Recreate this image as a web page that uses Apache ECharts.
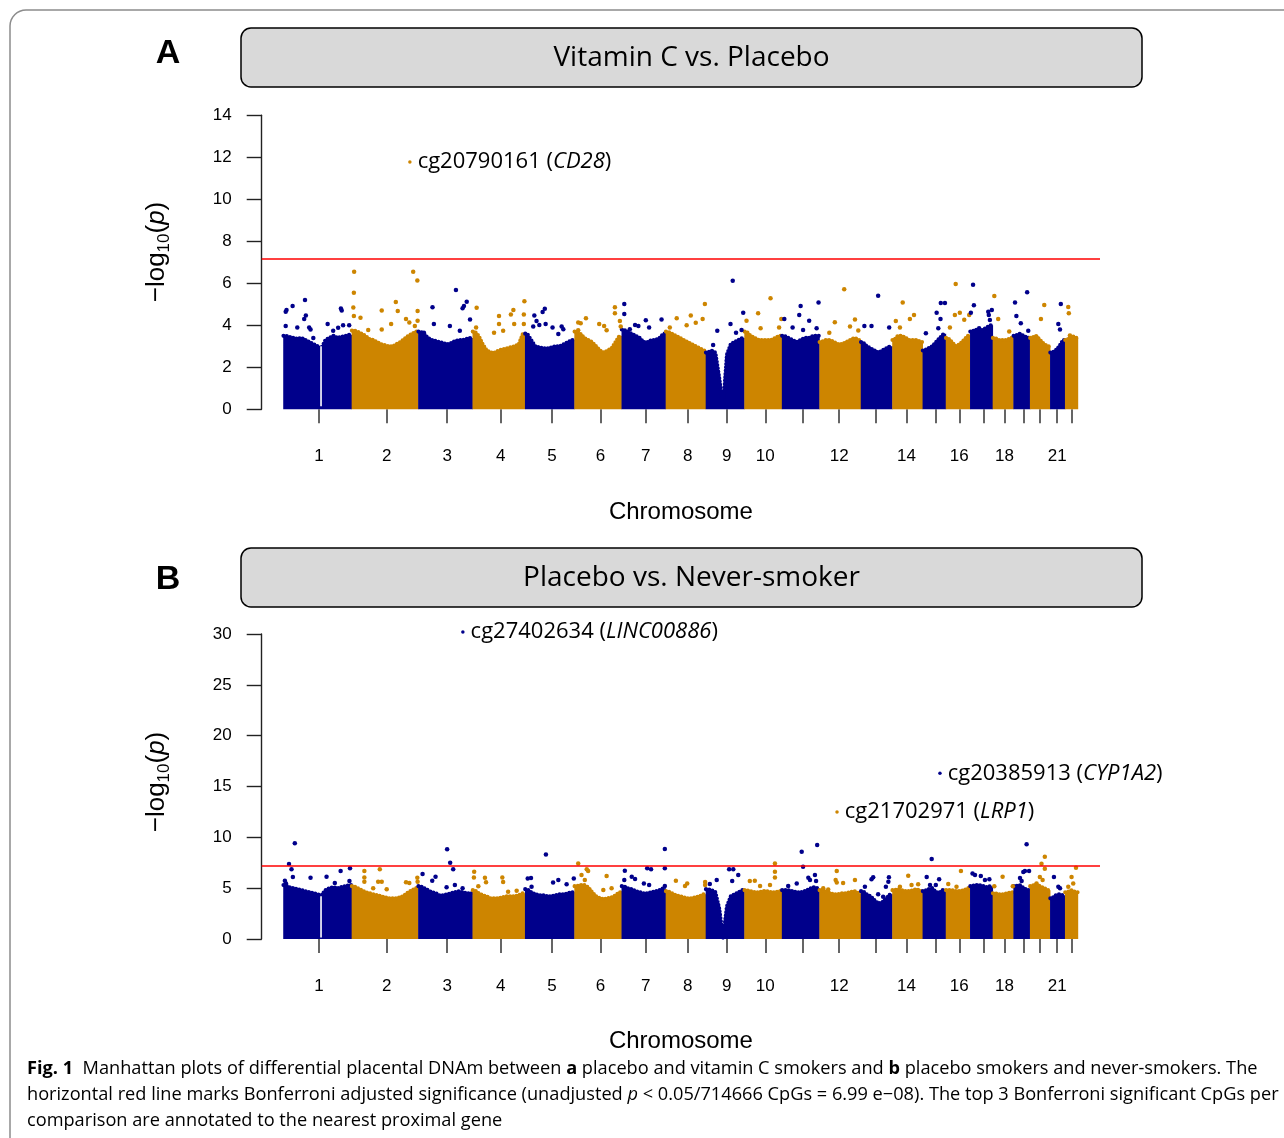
<!DOCTYPE html>
<html><head><meta charset="utf-8">
<script src="https://cdn.jsdelivr.net/npm/echarts@6/dist/echarts.min.js"></script>
<style>html,body{margin:0;padding:0;background:#fff}#c{width:1284px;height:1138px}</style>
</head><body><div id="c"></div>
<script>
// ---------- data ----------
const chromosomes = ['1','2','3','4','5','6','7','8','9','10','11','12','13','14','15','16','17','18','19','20','21','22'];
// cumulative end position of each chromosome (Mb)
const chrEnd = [248, 489, 686, 876, 1055, 1226, 1386, 1531, 1671, 1807, 1943, 2093, 2207, 2317, 2401, 2489, 2571, 2646, 2706, 2779, 2833, 2881];
// tick position (Mb) of each chromosome
const tickPos = [130, 375, 594, 788, 974, 1150, 1314, 1466, 1607, 1747, 1881, 2015, 2148, 2259, 2365, 2450, 2537, 2614, 2683, 2743, 2805, 2857];
const shownTickLabels = ['1','2','3','4','5','6','7','8','9','10','12','14','16','18','21'];
const bonferroni = -Math.log10(0.05 / 714666);

// upper edge of the dense point mass, per chromosome (−log10 p), panel A
const bandA = [
 [3.5,3.45,3.4,3.35,3.4,3.3,3.2,3.1,3.0,2.9,3.3,3.4,3.5,3.4,3.45,3.5,3.55],
 [3.75,3.7,3.6,3.5,3.35,3.3,3.2,3.1,3.05,3.0,3.0,3.1,3.2,3.35,3.5,3.6,3.7],
 [3.7,3.6,3.4,3.3,3.25,3.2,3.15,3.1,3.15,3.25,3.3,3.3,3.35,3.4],
 [3.7,3.5,3.1,2.8,2.7,2.7,2.8,2.85,2.9,2.95,3.0,3.1,3.6],
 [3.6,3.3,3.0,2.95,2.9,2.9,2.95,3.0,3.0,3.1,3.2,3.3],
 [3.7,3.6,3.4,3.3,3.2,3.0,2.8,2.7,2.8,2.9,3.2,3.5],
 [3.8,3.7,3.6,3.5,3.4,3.2,3.2,3.3,3.3,3.4,3.6],
 [3.7,3.6,3.5,3.4,3.3,3.2,3.1,3.0,2.9,2.8],
 [2.7,2.8,2.7,1.5,0.1,2.6,3.1,3.2,3.3,3.4],
 [3.7,3.5,3.4,3.3,3.3,3.3,3.3,3.4,3.5],
 [3.5,3.4,3.3,3.2,3.3,3.4,3.4,3.5,3.5],
 [3.2,3.3,3.3,3.2,3.1,3.1,3.2,3.3,3.4,3.3],
 [3.2,3.0,2.9,2.8,2.7,2.8,2.9,3.0],
 [3.3,3.5,3.5,3.4,3.3,3.3,3.3,3.2],
 [2.8,2.9,3.0,3.2,3.4,3.6],
 [3.4,3.2,3.0,3.1,3.3,3.5],
 [3.7,3.8,3.7,3.8,3.9,4.0],
 [3.4,3.3,3.3,3.3,3.4],
 [3.5,3.6,3.5,3.4],
 [3.4,3.5,3.3,3.1,3.0],
 [2.7,2.8,3.0,3.3],
 [3.3,3.5,3.4]
];
// panel B
const bandB = [
 [5.3,5.1,5.0,4.9,4.8,4.7,4.6,4.5,4.4,4.3,4.8,5.0,5.1,5.0,5.1,5.2,5.3],
 [5.2,5.0,4.8,4.6,4.5,4.4,4.3,4.2,4.1,4.0,4.0,4.0,4.1,4.3,4.6,4.8,5.0],
 [5.2,5.0,4.8,4.6,4.5,4.3,4.3,4.4,4.5,4.6,4.7,4.6,4.5,4.5],
 [4.8,4.5,4.3,4.2,4.0,4.0,4.0,4.1,4.2,4.2,4.2,4.3,4.5],
 [4.9,4.6,4.4,4.3,4.3,4.2,4.2,4.3,4.4,4.4,4.5,4.6],
 [5.2,5.3,5.3,5.1,4.6,4.2,4.0,3.9,4.0,4.1,4.3,4.6],
 [5.2,5.0,4.9,4.7,4.6,4.5,4.5,4.6,4.7,4.8,5.0],
 [4.7,4.5,4.3,4.2,4.1,4.0,4.0,4.1,4.2,4.4],
 [4.9,4.8,4.6,3.0,0.1,3.2,4.2,4.4,4.6,4.8],
 [4.8,4.7,4.6,4.6,4.7,4.7,4.6,4.6,4.7],
 [4.8,4.8,4.7,4.6,4.6,4.7,4.9,5.1,5.0],
 [4.8,4.7,4.5,4.4,4.4,4.5,4.5,4.6,4.7,4.5],
 [4.7,4.4,4.2,3.8,3.5,3.6,4.0,4.4],
 [4.8,4.9,4.8,4.7,4.7,4.8,4.9,4.7],
 [4.7,4.9,5.0,4.6,4.6,4.9],
 [4.8,4.8,4.7,4.7,4.8,5.0],
 [5.2,5.3,5.3,5.2,5.1,5.2],
 [4.5,4.4,4.4,4.5,4.6],
 [5.2,5.3,5.0,4.8],
 [5.2,5.4,5.2,5.0,4.8],
 [4.0,4.3,4.4,4.3],
 [4.6,4.8,4.6]
];
// centromere gaps [position, top]
const gapsA = [[137, 3.0]];
const gapsB = [[137, 4.2]];

// individual points above the mass [position Mb, −log10 p]
const outliersA = [
[9,4.65],[12,4.73],[34,4.92],[79,5.2],[82,4.47],[76,4.3],[94,3.9],[99,3.8],[9,3.97],[51,3.9],[161,4.06],[209,4.8],[212,4.7],[217,4.0],[239,4.0],[199,3.88],[181,3.74],[109,3.4],
[257,6.55],[256,5.55],[254,4.85],[256,4.44],[280,4.36],[357,4.7],[408,5.11],[415,4.68],[391,4.06],[445,4.3],[457,4.13],[471,6.55],[486,6.13],[487,4.68],[487,4.22],[477,3.97],[357,3.8],[308,3.78],
[541,4.86],[546,4.06],[626,5.68],[665,5.12],[650,4.81],[655,4.92],[604,3.97],[677,4.28],[640,3.74],[510,3.65],
[701,4.84],[699,3.9],[782,4.44],[782,4.06],[825,4.52],[834,4.73],[837,4.06],[874,5.15],[872,4.52],[872,4.06],[764,3.65],[797,3.74],
[948,4.79],[940,4.63],[910,4.47],[918,4.2],[928,4.01],[906,3.94],[951,4.06],[976,3.9],[997,3.59],[1015,3.81],[1009,3.94],
[1069,4.13],[1078,4.1],[1097,4.33],[1145,4.06],[1163,3.97],[1172,3.77],[1202,4.86],[1202,4.57],[1220,4.2],[1223,3.94],[1069,3.77],
[1236,5.01],[1236,4.54],[1275,4.01],[1287,3.97],[1256,3.81],[1314,4.24],[1371,4.28],[1326,3.9],
[1426,4.33],[1477,4.47],[1495,4.12],[1520,4.3],[1528,5.01],[1401,3.9],[1462,4.0],
[1573,3.74],[1558,3.06],[1629,6.12],[1621,4.06],[1641,3.65],[1667,4.6],[1661,3.78],
[1721,4.57],[1766,5.29],[1679,4.22],[1730,3.86],[1797,3.9],[1805,4.3],
[1816,4.3],[1875,4.92],[1870,4.49],[1906,4.22],[1940,5.09],[1846,3.9],[1884,3.78],[1933,3.86],
[2033,5.72],[1999,4.14],[2072,4.28],[1979,3.65],[2054,3.94],[2084,3.75],
[2106,3.97],[2132,3.97],[2156,5.41],[2196,3.9],
[2245,5.09],[2220,4.2],[2271,4.3],[2286,4.49],[2235,3.9],
[2329,3.62],[2368,4.6],[2383,5.06],[2398,5.06],[2382,4.3],[2374,3.86],
[2437,5.97],[2434,4.49],[2452,4.6],[2468,4.27],[2416,3.9],[2486,4.49],
[2500,5.93],[2503,4.95],[2492,4.6],[2555,4.65],[2557,4.49],[2561,4.25],[2568,4.73],[2522,3.86],
[2577,5.39],[2591,4.3],[2631,3.7],
[2652,5.09],[2657,4.44],[2696,5.57],[2673,4.1],[2700,3.74],
[2758,4.97],[2746,4.3],[2730,3.43],
[2818,5.01],[2809,4.06],[2815,3.8],
[2845,4.87],[2847,4.57],[2851,3.51]
];
const outliersB = [
[42,9.41],[21,7.38],[30,6.85],[35,6.1],[6,5.74],[10,5.47],[99,6.03],[157,6.13],[208,6.69],[242,6.95],[240,5.7],[187,5.5],
[294,6.69],[350,6.85],[294,6.05],[294,5.62],[344,5.62],[357,5.62],[445,5.59],[457,5.5],[486,6.03],[487,5.64],[375,4.9],[326,4.98],
[594,8.82],[605,7.5],[616,6.85],[505,6.39],[552,6.13],[540,5.74],[622,5.31],[650,4.98],[592,5.08],
[692,6.62],[691,6.06],[731,6.03],[735,5.57],[794,6.06],[797,5.6],[707,5.2],[815,4.65],[846,4.75],
[952,8.32],[886,5.95],[898,6.0],[900,5.15],[978,5.55],[997,5.8],[1053,5.95],[1027,5.38],
[1069,7.43],[1081,6.3],[1100,6.85],[1105,6.7],[1093,5.8],[1172,6.2],[1160,4.82],[1190,4.98],
[1238,6.72],[1263,6.13],[1275,5.9],[1236,5.8],[1319,6.95],[1333,6.85],[1307,5.47],[1326,5.31],[1383,8.85],[1383,6.95],[1383,5.21],
[1423,5.74],[1456,5.21],[1464,5.47],[1529,5.6],[1529,5.31],
[1571,5.8],[1546,5.4],[1616,6.85],[1631,6.85],[1627,5.7],[1649,6.3],
[1691,5.7],[1709,5.74],[1728,5.21],[1764,5.31],[1782,7.43],[1782,6.62],[1782,6.05],
[1879,8.59],[1884,7.1],[1935,9.24],[1903,6.03],[1909,5.8],[1927,6.3],[1931,5.7],[1830,5.21],[1861,5.47],
[2006,6.69],[2002,5.8],[2006,5.55],[2029,5.5],[2072,5.8],[1957,4.98],[1975,4.88],
[2108,5.15],[2132,5.87],[2138,6.07],[2156,4.4],[2174,4.16],[2184,5.15],[2193,5.64],[2195,6.07],
[2265,6.23],[2235,5.15],[2277,5.31],[2301,5.38],
[2350,7.87],[2332,6.1],[2377,5.87],[2344,5.31],[2365,5.31],
[2456,6.68],[2410,5.41],[2440,5.15],
[2498,6.45],[2507,6.29],[2528,6.2],[2543,5.8],[2559,5.87],[2513,5.2],
[2607,6.13],[2577,5.2],[2644,5.2],
[2694,9.31],[2682,6.6],[2688,6.7],[2703,6.7],[2670,6.0],[2676,5.7],
[2760,8.1],[2748,7.41],[2760,6.92],[2742,6.1],[2752,5.8],[2730,5.47],
[2793,6.1],[2809,5.15],[2815,5.0],
[2873,7.02],[2857,6.1],[2863,5.47],[2845,5.15]
];
// top hits [position, −log10 p, CpG, gene]
const hitsA = [[459, 11.78, 'cg20790161', 'CD28']];
const hitsB = [[651, 30.19, 'cg27402634', 'LINC00886'], [2380, 16.3, 'cg20385913', 'CYP1A2'], [2007, 12.49, 'cg21702971', 'LRP1']];

// ---------- chart ----------
const COLORS = ['#00008B', '#CD8500'];
const chrStart = i => (i === 0 ? 0 : chrEnd[i - 1]);
const chrOf = pos => { for (let i = 0; i < chrEnd.length; i++) if (pos <= chrEnd[i]) return i; return chrEnd.length - 1; };
const AXIS_FONT = 'Liberation Sans, Arial, sans-serif';
const labelPos = shownTickLabels.map(n => tickPos[chromosomes.indexOf(n)]);

function bandSeries(profiles, k) {
  return {
    type: 'custom', xAxisIndex: k, yAxisIndex: k, silent: true, z: 1,
    data: profiles.map((p, i) => [i]),
    renderItem: (params, api) => {
      const i = params.dataIndex, prof = profiles[i];
      const s = chrStart(i), e = chrEnd[i], n = prof.length, w = (e - s) / n;
      const eExt = i < profiles.length - 1 ? e + 1.5 : e;
      const top = [api.coord([s + 1, prof[0]])];
      prof.forEach((v, j) => top.push(api.coord([s + (j + 0.5) * w, v])));
      top.push(api.coord([e - 1, prof[n - 1]]));
      const poly = [api.coord([s, 0]), api.coord([s, prof[0]])].concat(top, [api.coord([eExt, prof[n - 1]]), api.coord([eExt, 0])]);
      const c = COLORS[i % 2];
      return {
        type: 'group', children: [
          { type: 'polygon', shape: { points: poly }, style: { fill: c } },
          { type: 'polyline', shape: { points: top }, style: { fill: null, stroke: c, lineWidth: 4.2, lineCap: 'round', lineDash: [0, 3.3] } }
        ]
      };
    }
  };
}
function gapSeries(gaps, k) {
  return {
    type: 'custom', xAxisIndex: k, yAxisIndex: k, silent: true, z: 2,
    data: gaps,
    renderItem: (params, api) => {
      const p0 = api.coord([api.value(0), 0.15]), p1 = api.coord([api.value(0), api.value(1)]);
      return { type: 'rect', shape: { x: p0[0] - 0.8, y: p1[1], width: 1.6, height: p0[1] - p1[1] }, style: { fill: '#fff' } };
    }
  };
}
function pointSeries(pts, k) {
  return {
    type: 'scatter', xAxisIndex: k, yAxisIndex: k, silent: true, z: 3,
    symbolSize: 4.5, data: pts,
    itemStyle: { color: p => COLORS[chrOf(p.value[0]) % 2], opacity: 1 },
    markLine: {
      silent: true, symbol: ['none', 'none'], animation: false,
      label: { show: false },
      lineStyle: { color: '#ff0000', width: 1.5, type: 'solid' },
      data: [{ yAxis: bonferroni }]
    }
  };
}
function hitSeries(hits, k) {
  return {
    type: 'scatter', xAxisIndex: k, yAxisIndex: k, silent: true, z: 4, clip: false,
    symbolSize: 3.5,
    data: hits.map(h => ({ value: [h[0], h[1]], cpg: h[2], gene: h[3] })),
    itemStyle: { color: p => COLORS[chrOf(p.value[0]) % 2], opacity: 1 },
    label: {
      show: true, position: 'right', distance: 6,
      formatter: p => '{a|' + p.data.cpg + ' (}{i|' + p.data.gene + '}{a|)}',
      rich: {
        a: { fontFamily: 'Open Sans', fontSize: 22, color: '#000' },
        i: { fontFamily: 'Open Sans', fontSize: 22, fontStyle: 'italic', color: '#000' }
      }
    }
  };
}
function xAxisCfg(k) {
  return {
    type: 'value', gridIndex: k, min: -78, max: 2960,
    axisLine: { show: false, onZero: false }, splitLine: { show: false },
    axisTick: { show: true, customValues: tickPos, length: 14, lineStyle: { color: '#333', width: 1.5 } },
    axisLabel: {
      customValues: labelPos, margin: 39, fontSize: 17, color: '#000', fontFamily: AXIS_FONT,
      formatter: v => { let b = 0; tickPos.forEach((t, i) => { if (Math.abs(t - v) < Math.abs(tickPos[b] - v)) b = i; }); return chromosomes[b]; }
    }
  };
}
function yAxisCfg(k, max, interval) {
  return {
    type: 'value', gridIndex: k, min: 0, max: max, interval: interval,
    axisLine: { show: true, onZero: false, lineStyle: { color: '#222', width: 1.4 } },
    axisTick: { show: true, length: 15, lineStyle: { color: '#222', width: 1.4 } },
    axisLabel: { margin: 30, fontSize: 17, color: '#000', fontFamily: AXIS_FONT },
    splitLine: { show: false }
  };
}
const ylabRich = {
  a: { fontFamily: AXIS_FONT, fontSize: 26, color: '#000', lineHeight: 32, verticalAlign: 'middle' },
  s: { fontFamily: AXIS_FONT, fontSize: 17, color: '#000', lineHeight: 17, verticalAlign: 'bottom' },
  i: { fontFamily: AXIS_FONT, fontSize: 26, fontStyle: 'italic', color: '#000', lineHeight: 32, verticalAlign: 'middle' }
};
function header(y, title, letter, ly) {
  return [
    { type: 'rect', shape: { x: 241, y: y, width: 901, height: 59, r: 10 }, style: { fill: '#d9d9d9', stroke: '#000', lineWidth: 1.5 } },
    { type: 'text', x: 691.5, y: y + 30, style: { text: title, fontFamily: 'Open Sans', fontSize: 28, fill: '#000', align: 'center', verticalAlign: 'middle' } },
    { type: 'text', x: 168, y: ly, style: { text: letter, fontFamily: AXIS_FONT, fontWeight: 'bold', fontSize: 34, fill: '#000', align: 'center', verticalAlign: 'middle' } }
  ];
}
const capRich = {
  b: { fontFamily: 'Open Sans', fontSize: 18.2, fontWeight: 'bold', color: '#231f20' },
  i: { fontFamily: 'Open Sans', fontSize: 18.2, fontStyle: 'italic', color: '#231f20' },
  r: { fontFamily: 'Open Sans', fontSize: 18.2, color: '#231f20' }
};
const captionLines = [
  '{b|Fig. 1}{r|  Manhattan plots of differential placental DNAm between }{b|a}{r| placebo and vitamin C smokers and }{b|b}{r| placebo smokers and never-smokers. The}',
  '{r|horizontal red line marks Bonferroni adjusted significance (unadjusted }{i|p}{r| < 0.05/714666 CpGs = 6.99 e−08). The top 3 Bonferroni significant CpGs per}',
  '{r|comparison are annotated to the nearest proximal gene}'
];
// frame outline with rounded top-left corner
const framePts = [[10, 1140]];
for (let a = 0; a <= 8; a++) {
  const t = Math.PI + (a / 8) * (Math.PI / 2);
  framePts.push([26 + 16 * Math.cos(t), 26 + 16 * Math.sin(t)]);
}
framePts.push([1290, 10]);

const chart = echarts.init(document.getElementById('c'), null, { renderer: 'canvas' });
chart.setOption({
  animation: false,
  backgroundColor: '#fff',
  grid: [
    { left: 261.7, right: 184, top: 115.3, bottom: 728.7, containLabel: false },
    { left: 261.7, right: 184, top: 634, bottom: 199, containLabel: false }
  ],
  xAxis: [xAxisCfg(0), xAxisCfg(1)],
  yAxis: [yAxisCfg(0, 14, 2), yAxisCfg(1, 30, 5)],
  series: [
    bandSeries(bandA, 0), gapSeries(gapsA, 0), pointSeries(outliersA, 0), hitSeries(hitsA, 0),
    bandSeries(bandB, 1), gapSeries(gapsB, 1), pointSeries(outliersB, 1), hitSeries(hitsB, 1)
  ],
  graphic: [
    { type: 'polyline', shape: { points: framePts }, style: { fill: null, stroke: '#8c8c8c', lineWidth: 1.5 } },
    ...header(28, 'Vitamin C vs. Placebo', 'A', 54),
    ...header(548, 'Placebo vs. Never-smoker', 'B', 580),
    { type: 'text', x: 157, y: 252, rotation: Math.PI / 2, style: { text: '{a|−log}{s|10}{a|(}{i|p}{a|)}', rich: ylabRich, align: 'center', verticalAlign: 'middle' } },
    { type: 'text', x: 157, y: 782, rotation: Math.PI / 2, style: { text: '{a|−log}{s|10}{a|(}{i|p}{a|)}', rich: ylabRich, align: 'center', verticalAlign: 'middle' } },
    { type: 'text', x: 680.9, y: 512, style: { text: 'Chromosome', fontFamily: AXIS_FONT, fontSize: 24, fill: '#000', align: 'center', verticalAlign: 'middle' } },
    { type: 'text', x: 680.9, y: 1041, style: { text: 'Chromosome', fontFamily: AXIS_FONT, fontSize: 24, fill: '#000', align: 'center', verticalAlign: 'middle' } },
    ...captionLines.map((t, i) => ({ type: 'text', x: 27, y: 1069 + i * 26, style: { text: t, rich: capRich, align: 'left', verticalAlign: 'middle' } }))
  ]
});
</script></body></html>
